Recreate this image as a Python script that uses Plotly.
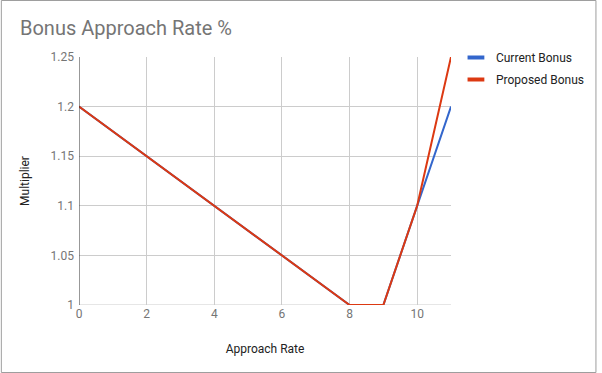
import plotly.graph_objects as go

approach_rate = [0, 1, 2, 3, 4, 5, 6, 7, 8, 9, 10, 11]
current_bonus = [1.2, 1.175, 1.15, 1.125, 1.1, 1.075, 1.05, 1.025, 1.0, 1.0, 1.1, 1.2]
proposed_bonus = [1.2, 1.175, 1.15, 1.125, 1.1, 1.075, 1.05, 1.025, 1.0, 1.0, 1.1, 1.25]
series_names = ["Current Bonus", "Proposed Bonus"]
series_colors = ["#3366cc", "#dc3912"]
x_ticks = [0, 2, 4, 6, 8, 10]
y_ticks = [1, 1.05, 1.1, 1.15, 1.2, 1.25]
y_tick_labels = ["1", "1.05", "1.1", "1.15", "1.2", "1.25"]

W, H = 602, 373
L, R, T, B = 79, 147, 57, 68
pw, ph = W - L - R, H - T - B

fig = go.Figure()
for name, ys, col in zip(series_names, [current_bonus, proposed_bonus], series_colors):
    fig.add_trace(go.Scatter(x=approach_rate, y=ys, mode="lines", name=name,
                             line=dict(color=col, width=2), showlegend=False))
# legend entries (short thick bar swatches, like the original)
for name, col in zip(series_names, series_colors):
    fig.add_trace(go.Scatter(x=[None], y=[None], mode="markers", name=name, legendgroup=name,
                             marker=dict(symbol="line-ew-open", size=12, color=col,
                                         line=dict(color=col, width=4))))

fig.update_layout(
    width=W, height=H,
    margin=dict(l=L, r=R, t=T, b=B, pad=0),
    paper_bgcolor="white", plot_bgcolor="white",
    font=dict(family="Roboto", size=12, color="#757575"),
    title=dict(text="Bonus Approach Rate %", x=20 / W, xanchor="left", y=1 - 28 / H, yanchor="middle",
               font=dict(family="Roboto", size=20, color="#757575")),
    xaxis=dict(range=[0, 11], tickvals=x_ticks, showgrid=True, gridcolor="#cccccc", gridwidth=1,
               zeroline=False, showline=False, ticks="", tickfont=dict(size=12, color="#757575"),
               title=dict(text="Approach Rate", font=dict(size=12, color="#222222"), standoff=24)),
    yaxis=dict(range=[1, 1.25], tickvals=y_ticks, ticktext=y_tick_labels, showgrid=True,
               gridcolor="#cccccc", gridwidth=1, zeroline=False, showline=False, ticks="",
               ticklabelstandoff=4,
               tickfont=dict(size=12, color="#757575"),
               title=dict(text="Multiplier", font=dict(size=12, color="#222222"), standoff=18)),
    legend=dict(x=(460 - L) / pw, y=1 + 14 / ph, xanchor="left", yanchor="top",
                font=dict(size=12, color="#222222"), tracegroupgap=3, itemwidth=30,
                bgcolor="rgba(0,0,0,0)"),
    showlegend=True,
)

# left axis line (dark) and bottom baseline
fig.add_shape(type="line", xref="x", yref="paper", x0=0, x1=0, y0=0, y1=1,
              line=dict(color="#333333", width=1), layer="above")
fig.add_shape(type="line", xref="paper", yref="y", x0=0, x1=1, y0=1, y1=1,
              line=dict(color="#cccccc", width=1), layer="below")
# outer border
fig.add_shape(type="rect", xref="paper", yref="paper",
              x0=(0.5 - L) / pw, x1=(W - 0.5 - L) / pw,
              y0=-(B - 0.5) / ph, y1=1 + (T - 0.5) / ph,
              line=dict(color="#9e9e9e", width=1))

fig.write_html("out.html", config={"displayModeBar": False},
               post_script="document.body.style.margin='0px';document.body.style.overflow='hidden';")
